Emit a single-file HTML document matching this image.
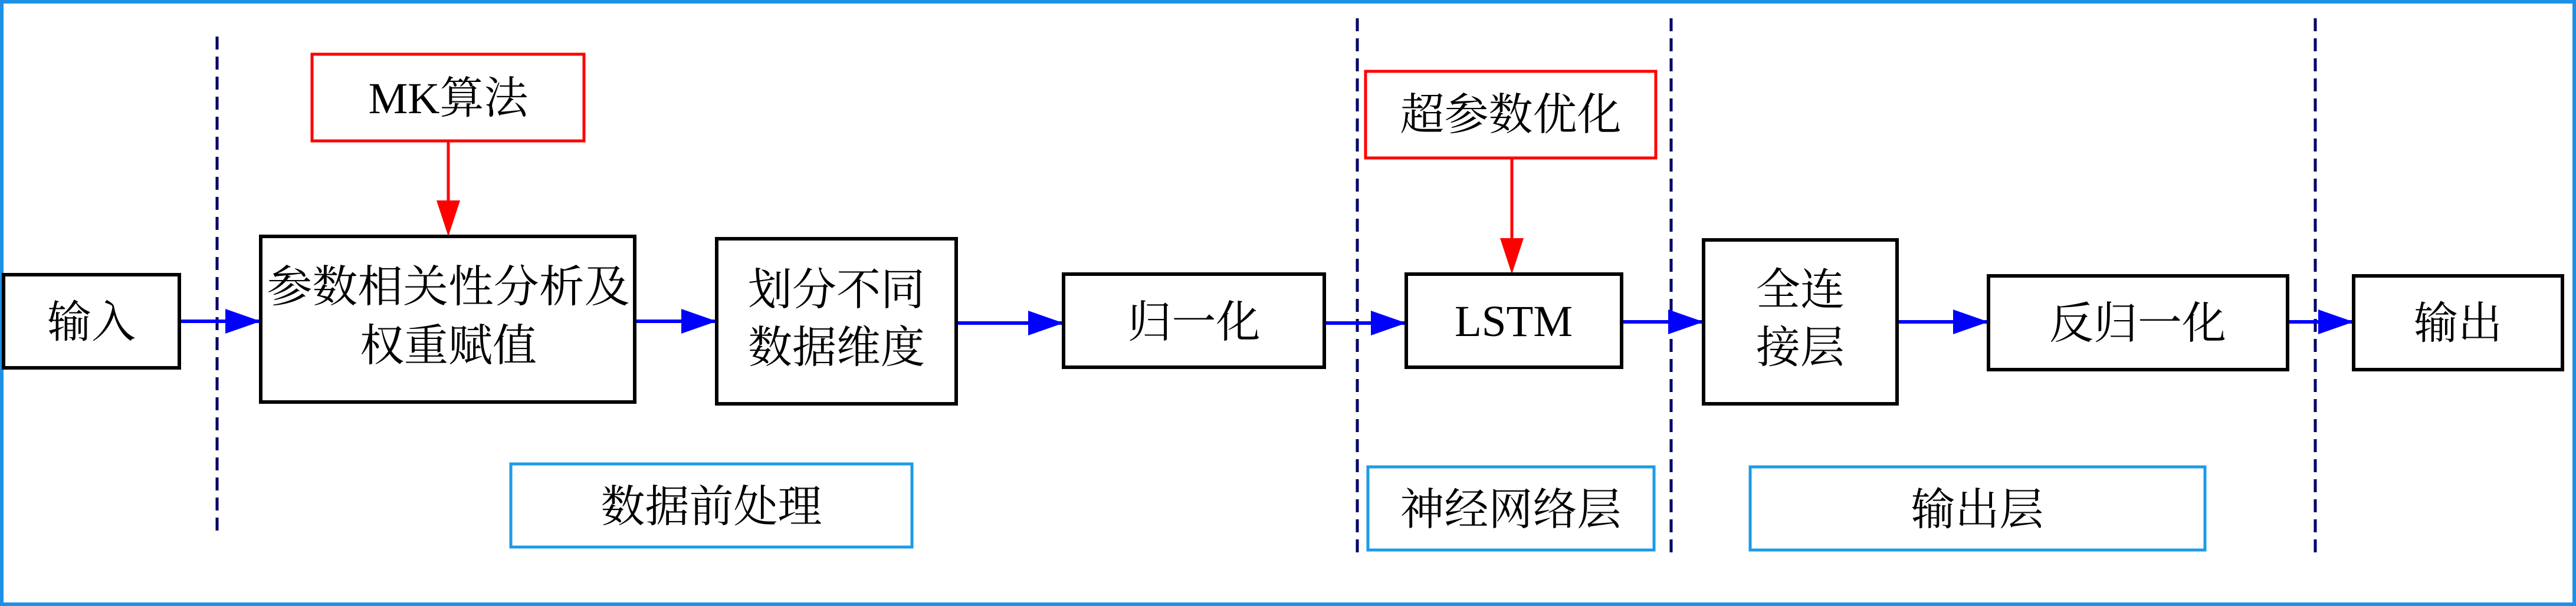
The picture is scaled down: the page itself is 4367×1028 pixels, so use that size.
<!DOCTYPE html>
<html><head><meta charset="utf-8"><style>
html,body{margin:0;padding:0;background:#fff;}
svg{display:block;}
text{font-family:"Liberation Serif","Noto Serif CJK SC","Noto Sans CJK SC",serif;font-size:75px;fill:#000;}
</style></head><body>
<svg width="4367" height="1028" viewBox="0 0 4367 1028" xmlns="http://www.w3.org/2000/svg">
<defs>
<marker id="bA" markerUnits="userSpaceOnUse" markerWidth="62" markerHeight="46" refX="60" refY="23" orient="auto"><path d="M0,2 L60,23 L0,44 Z" fill="#0000ff"/></marker>
</defs>
<rect x="3" y="3" width="4361" height="1022" fill="none" stroke="#1e90e6" stroke-width="6"/>
<g stroke="#000066" stroke-width="5" stroke-dasharray="22 12">
<line x1="368" y1="62" x2="368" y2="912"/>
<line x1="2301" y1="31" x2="2301" y2="941"/>
<line x1="2833" y1="31" x2="2833" y2="941"/>
<line x1="3925" y1="31" x2="3925" y2="941"/>
</g>
<g fill="none" stroke="#0000ff" stroke-width="6">
<line x1="304" y1="545" x2="442" y2="545" marker-end="url(#bA)"/>
<line x1="1076" y1="545" x2="1215" y2="545" marker-end="url(#bA)"/>
<line x1="1621" y1="548" x2="1803" y2="548" marker-end="url(#bA)"/>
<line x1="2245" y1="548" x2="2384" y2="548" marker-end="url(#bA)"/>
<line x1="2749" y1="546" x2="2888" y2="546" marker-end="url(#bA)"/>
<line x1="3216" y1="546" x2="3371" y2="546" marker-end="url(#bA)"/>
<line x1="3878" y1="546" x2="3990" y2="546" marker-end="url(#bA)"/>
</g>
<g stroke="#ff0000" stroke-width="5" fill="#ff0000">
<line x1="760" y1="239" x2="760" y2="350"/>
<path d="M740,340 L780,340 L760,401 Z" stroke="none"/>
<line x1="2563" y1="268" x2="2563" y2="410"/>
<path d="M2543,404 L2583,404 L2563,465 Z" stroke="none"/>
</g>
<g fill="none" stroke="#000" stroke-width="6">
<rect x="6" y="466" width="298" height="158"/>
<rect x="442" y="401" width="634" height="281"/>
<rect x="1215" y="405" width="406" height="280"/>
<rect x="1803" y="465" width="442" height="158"/>
<rect x="2384" y="465" width="365" height="158"/>
<rect x="2888" y="407" width="328" height="278"/>
<rect x="3371" y="468" width="507" height="159"/>
<rect x="3990" y="468" width="354" height="159"/>
</g>
<g fill="none" stroke="#ff0000" stroke-width="5">
<rect x="529" y="92" width="461" height="147"/>
<rect x="2315" y="121" width="492" height="147"/>
</g>
<g fill="none" stroke="#1e9be6" stroke-width="5">
<rect x="866" y="787" width="680" height="141"/>
<rect x="2319" y="792" width="485" height="141"/>
<rect x="2967" y="792" width="771" height="141"/>
</g>
<g text-anchor="middle">
<text x="155" y="572">输入</text>
<text x="760" y="512" textLength="615" lengthAdjust="spacingAndGlyphs">参数相关性分析及</text>
<text x="760" y="612">权重赋值</text>
<text x="1418" y="517">划分不同</text>
<text x="1418" y="615">数据维度</text>
<text x="2024" y="572">归一化</text>
<text x="2566" y="570" font-size="72">LSTM</text>
<text x="3052" y="517">全连</text>
<text x="3052" y="615">接层</text>
<text x="3624" y="574">反归一化</text>
<text x="4167" y="574">输出</text>
<text x="760" y="192">MK算法</text>
<text x="2561" y="220">超参数优化</text>
<text x="1206" y="885">数据前处理</text>
<text x="2561" y="890">神经网络层</text>
<text x="3352" y="890">输出层</text>
</g>
</svg>
</body></html>
